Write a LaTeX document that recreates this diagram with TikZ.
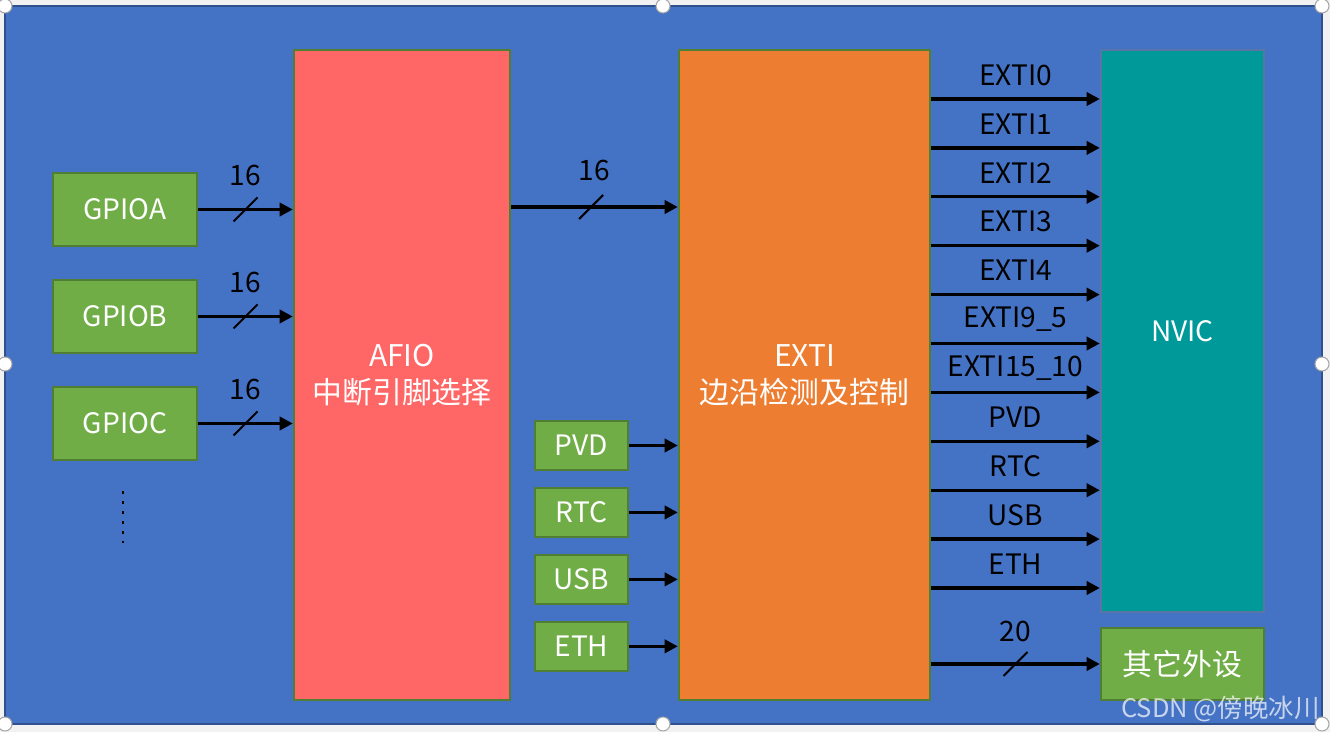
\documentclass[tikz,border=0pt]{standalone}
\usepackage{fontspec}
\setmainfont{Noto Sans CJK SC}
\usetikzlibrary{arrows.meta,positioning}
\definecolor{bgblue}{HTML}{4472C4}
\definecolor{edgeblue}{HTML}{2F528F}
\definecolor{boxgreen}{HTML}{70AD47}
\definecolor{linegreen}{HTML}{507E32}
\definecolor{afiored}{HTML}{FF6666}
\definecolor{extiorange}{HTML}{ED7D31}
\definecolor{nvicteal}{HTML}{009999}
\tikzset{
  blk/.style={draw=linegreen, line width=1.4pt, text=white, align=center, inner sep=0pt,
    font=\fontsize{16}{21}\selectfont},
  gpiobox/.style={blk, fill=boxgreen, minimum width=2.88cm, minimum height=1.46cm},
  srcbox/.style={blk, fill=boxgreen, minimum width=1.86cm, minimum height=0.98cm},
  arr/.style={line width=1.9pt, -{Triangle[length=7.5pt,width=7.5pt]}},
  slash/.style={line width=1.2pt},
  lbl/.style={font=\fontsize{16}{19}\selectfont},
  handle/.style={circle, draw=gray!70, fill=white, line width=0.6pt, minimum size=0.28cm, inner sep=0pt}
}
\begin{document}
\begin{tikzpicture}[x=0.02cm,y=-0.02cm]
\useasboundingbox[fill=gray!10] (0,0) rectangle (1330,732);
\draw[fill=bgblue, draw=edgeblue, line width=1pt] (5,6) rectangle (1322,724);

% GPIO ports
\node[gpiobox] (gpioa) at (125,209.5) {GPIOA};
\node[gpiobox] (gpiob) at (125,316.5) {GPIOB};
\node[gpiobox] (gpioc) at (125,423.5) {GPIOC};
\draw[line width=1.7pt, dash pattern=on 1.7pt off 4pt] (gpioc.south) ++(-2,30) -- ++(0,52);

% main blocks
\node[blk, fill=afiored, minimum width=4.32cm, minimum height=13cm,
  font=\fontsize{17}{21}\selectfont] (afio) at (402,375) {AFIO\\中断引脚选择};
\node[blk, fill=extiorange, minimum width=5.02cm, minimum height=13cm,
  font=\fontsize{17}{21}\selectfont] (exti) at (804.5,375) {EXTI\\边沿检测及控制};
\node[blk, fill=nvicteal, draw=edgeblue!80, minimum width=3.26cm, minimum height=11.24cm] (nvic) at (1182.5,331) {NVIC};
\node[blk, fill=boxgreen, minimum width=3.26cm, minimum height=1.44cm,
  font=\fontsize{17}{21}\selectfont] (other) at (1182.5,664) {其它外设};

% other sources
\node[srcbox] (pvd) at (581.5,445.5) {PVD};
\node[srcbox, below=0.31cm of pvd] (rtc) {RTC};
\node[srcbox, below=0.31cm of rtc] (usb) {USB};
\node[srcbox, below=0.31cm of usb] (eth) {ETH};

% 16-bit buses
\foreach \src/\s in {gpioa/sa,gpiob/sb,gpioc/sc}{
  \draw[arr] (\src.east) -- node[lbl, midway, yshift=0.68cm]{16} coordinate[midway](\s) (afio.west |- \src.east);
  \draw[slash] (\s) ++(-12,12) -- ++(24,-24);
}
\draw[arr] (afio.east |- 0,207) -- node[lbl, midway, yshift=0.74cm]{16} coordinate[pos=.48](sd) (exti.west |- 0,207);
\draw[slash] (sd) ++(-12,12) -- ++(24,-24);

\foreach \src in {pvd,rtc,usb,eth}
  \draw[arr] (\src.east) -- (exti.west |- \src.east);

% EXTI lines to NVIC
\foreach \lab [count=\i from 0, evaluate=\i as \y using 99+48.9*\i] in
  {EXTI0,EXTI1,EXTI2,EXTI3,EXTI4,EXTI9\_5,EXTI15\_10,PVD,RTC,USB,ETH}
  \draw[arr] (exti.east |- 0,\y) -- node[lbl, midway, yshift=0.48cm]{\lab} (nvic.west |- 0,\y);

\draw[arr] (exti.east |- other.west) -- node[lbl, midway, yshift=0.66cm]{20} coordinate[midway](se) (other.west);
\draw[slash] (se) ++(-12,12) -- ++(24,-24);

% watermark and handles
\node[text=white, opacity=.7, font=\fontsize{14.5}{17}\selectfont, anchor=east] (mark) at (1326,709) {CSDN @傍晚冰川};
\foreach \hx/\hy [count=\h] in {5/6,663/6,1322/6,5/364,1322/364,5/724,663/724,1322/724}
  \node[handle] (h\h) at (\hx,\hy) {};
\end{tikzpicture}
\end{document}
